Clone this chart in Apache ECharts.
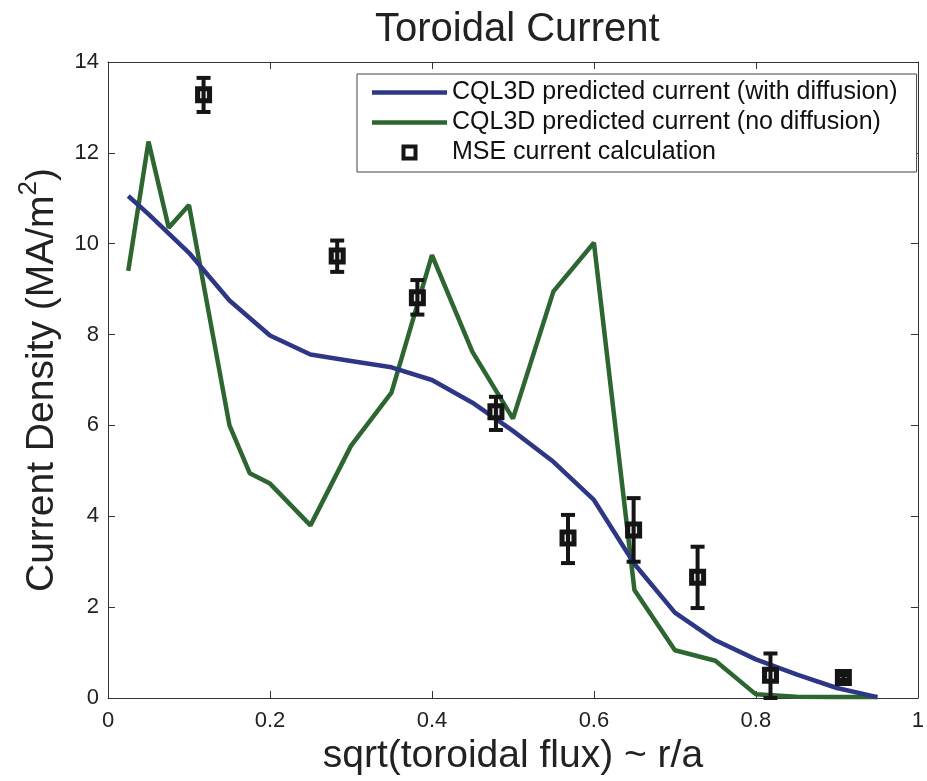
<!DOCTYPE html>
<html>
<head>
<meta charset="utf-8">
<script src="https://cdn.jsdelivr.net/npm/echarts@6/dist/echarts.min.js"></script>
<style>
  html, body { margin: 0; padding: 0; background: #fff; }
  #chart { width: 927px; height: 781px; }
</style>
</head>
<body>
<div id="chart"></div>
<script>
// CQL3D, with diffusion
const diffX = [0.025, 0.05, 0.1, 0.15, 0.2, 0.25, 0.3, 0.35, 0.4, 0.45, 0.5, 0.55, 0.6, 0.65, 0.7, 0.75, 0.8, 0.85, 0.9, 0.95];
const diffY = [11.05, 10.65, 9.8, 8.75, 7.98, 7.56, 7.42, 7.28, 7.0, 6.5, 5.88, 5.2, 4.36, 2.95, 1.88, 1.27, 0.85, 0.52, 0.22, 0.02];

// CQL3D, no diffusion
const noDiffX = [0.025, 0.05, 0.075, 0.1, 0.15, 0.175, 0.2, 0.25, 0.3, 0.35, 0.4, 0.45, 0.5, 0.55, 0.6, 0.65, 0.7, 0.75, 0.8, 0.85, 0.9, 0.95];
const noDiffY = [9.4, 12.25, 10.35, 10.85, 6.0, 4.95, 4.72, 3.8, 5.55, 6.72, 9.75, 7.62, 6.15, 8.95, 10.02, 2.38, 1.05, 0.82, 0.08, 0.03, 0.02, 0.02];

// MSE points and error limits
const mseX = [0.118, 0.283, 0.382, 0.479, 0.568, 0.649, 0.728, 0.818, 0.908];
const mseY = [13.28, 9.73, 8.81, 6.3, 3.52, 3.7, 2.66, 0.5, 0.45];
const mseLow = [12.9, 9.38, 8.44, 5.9, 2.97, 3.0, 1.98, 0.0, 0.4];
const mseHigh = [13.65, 10.07, 9.2, 6.63, 4.03, 4.4, 3.33, 0.98, 0.5];

const xTicks = [0, 0.2, 0.4, 0.6, 0.8, 1];
const yTicks = [0, 2, 4, 6, 8, 10, 12, 14];

const font = '"Liberation Sans", Arial, sans-serif';
const axisColor = '#333';
const blue = '#2e3786';
const green = '#2d6630';
const nameDiff = 'CQL3D predicted current (with diffusion)';
const nameNoDiff = 'CQL3D predicted current (no diffusion)';
const nameMse = 'MSE current calculation';

function zip(xs, ys) {
    return xs.map(function (x, i) { return [x, ys[i]]; });
}

function boxAxis(pos, ticks, showLabel) {
    return {
        type: 'value',
        position: pos,
        min: ticks[0],
        max: ticks[ticks.length - 1],
        interval: ticks[1] - ticks[0],
        axisLine: { show: true, onZero: false, lineStyle: { color: axisColor, width: 1 } },
        axisTick: { show: true, inside: true, length: 7, lineStyle: { color: axisColor } },
        axisLabel: { show: showLabel, fontSize: 22, color: '#222', fontFamily: font },
        splitLine: { show: false }
    };
}

const xMain = boxAxis('bottom', xTicks, true);
xMain.axisLabel.margin = 12;
xMain.name = 'sqrt(toroidal flux) ~ r/a';
xMain.nameLocation = 'middle';
xMain.nameGap = 26;
xMain.nameTextStyle = { fontSize: 39, color: '#222', fontFamily: font };

const yMain = boxAxis('left', yTicks, true);
yMain.axisLabel.margin = 9;
yMain.name = '{a|Current Density (MA/m}{s|2}{a|)}';
yMain.nameLocation = 'middle';
yMain.nameGap = 46;
yMain.nameTextStyle = {
    fontSize: 39, color: '#222', fontFamily: font,
    rich: {
        a: { fontSize: 39, color: '#222', fontFamily: font, lineHeight: 46, verticalAlign: 'bottom' },
        s: { fontSize: 26, color: '#222', fontFamily: font, lineHeight: 26, verticalAlign: 'top' }
    }
};

const lineIcon = 'path://M0,0H75V4.5H0Z';

const option = {
    animation: false,
    backgroundColor: '#fff',
    title: {
        text: 'Toroidal Current',
        left: 370,
        top: 5,
        textStyle: { fontSize: 40, fontWeight: 'normal', color: '#222', fontFamily: font }
    },
    grid: { left: 108, right: 7, top: 62, bottom: 83, containLabel: false },
    legend: {
        left: 357,
        top: 74,
        orient: 'vertical',
        itemWidth: 75,
        itemHeight: 12,
        itemGap: 5,
        padding: [6, 19, 7, 15],
        borderColor: '#444',
        borderWidth: 1,
        backgroundColor: '#fff',
        selectedMode: false,
        textStyle: { fontSize: 25, color: '#111', fontFamily: font },
        data: [
            { name: nameDiff, icon: lineIcon, itemStyle: { color: blue, borderWidth: 0 } },
            { name: nameNoDiff, icon: lineIcon, itemStyle: { color: green, borderWidth: 0 } },
            {
                name: nameMse,
                icon: 'path://M0,0H10V10H0Z',
                itemStyle: { color: '#fff', borderColor: '#151515', borderWidth: 4 }
            }
        ]
    },
    xAxis: [xMain, boxAxis('top', xTicks, false)],
    yAxis: [yMain, boxAxis('right', yTicks, false)],
    series: [
        {
            name: nameDiff,
            type: 'line',
            data: zip(diffX, diffY),
            symbol: 'none',
            lineStyle: { color: blue, width: 4.5 },
            itemStyle: { color: blue },
            z: 3
        },
        {
            name: nameNoDiff,
            type: 'line',
            data: zip(noDiffX, noDiffY),
            symbol: 'none',
            lineStyle: { color: green, width: 4.5 },
            itemStyle: { color: green },
            z: 2
        },
        {
            name: nameMse,
            type: 'scatter',
            data: zip(mseX, mseY),
            symbol: 'rect',
            symbolSize: 12,
            itemStyle: { color: '#e8e8e8', borderColor: '#151515', borderWidth: 5, opacity: 1 },
            z: 4
        },
        {
            name: 'errors',
            type: 'custom',
            data: mseX.map(function (x, i) { return [x, mseLow[i], mseHigh[i]]; }),
            z: 5,
            renderItem: function (params, api) {
                const x = api.value(0);
                const lo = api.coord([x, api.value(1)]);
                const hi = api.coord([x, api.value(2)]);
                const hw = 7;
                const st = { stroke: '#151515', lineWidth: 4 };
                return {
                    type: 'group',
                    children: [
                        { type: 'line', shape: { x1: lo[0], y1: lo[1], x2: hi[0], y2: hi[1] }, style: st },
                        { type: 'line', shape: { x1: lo[0] - hw, y1: lo[1], x2: lo[0] + hw, y2: lo[1] }, style: st },
                        { type: 'line', shape: { x1: hi[0] - hw, y1: hi[1], x2: hi[0] + hw, y2: hi[1] }, style: st }
                    ]
                };
            }
        }
    ]
};

const chart = echarts.init(document.getElementById('chart'));
chart.setOption(option);
</script>
</body>
</html>
